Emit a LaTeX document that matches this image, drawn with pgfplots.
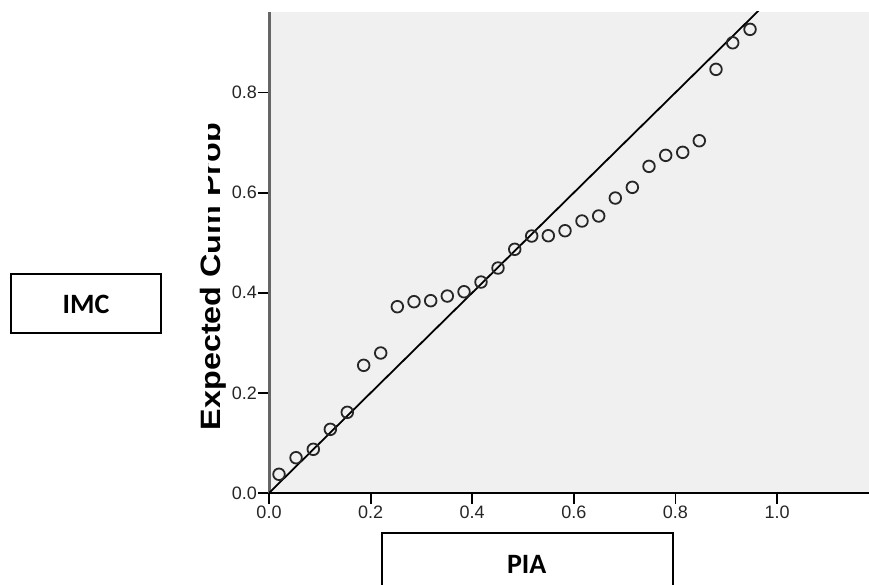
\documentclass[border=0pt]{standalone}
\usepackage{fontspec}
\setmainfont{Liberation Sans}
\newfontfamily\calibri{Carlito}
\usepackage{graphicx}
\usepackage{pgfplots}
\pgfplotsset{compat=1.18}
\definecolor{bg}{RGB}{240,240,240}
\pgfplotstableread{
x y
0.0197 0.0374
0.0532 0.0705
0.0872 0.0873
0.1207 0.1272
0.1541 0.1612
0.1864 0.2551
0.2199 0.2797
0.2526 0.3722
0.2854 0.3822
0.3183 0.3842
0.3510 0.3935
0.3839 0.4021
0.4173 0.4215
0.4508 0.4495
0.4837 0.4869
0.5171 0.5134
0.5498 0.5140
0.5827 0.5240
0.6161 0.5434
0.6490 0.5534
0.6817 0.5893
0.7152 0.6107
0.7480 0.6526
0.7809 0.6746
0.8144 0.6806
0.8470 0.7038
0.8799 0.8464
0.9128 0.8995
0.9469 0.9263
}\pts
\begin{document}
\begin{tikzpicture}[x=1pt,y=1pt]
\path[use as bounding box] (0,0) rectangle (869,-585);
\begin{axis}[
  at={(269pt,-493pt)}, anchor=south west,
  scale only axis, width=600pt, height=481pt,
  xmin=0, xmax=1.1811, ymin=0, ymax=0.961,
  axis x line*=bottom, axis y line*=left,
  axis line style={-},
  x axis line style={black, line width=2pt},
  y axis line style={black!60, line width=3pt},
  axis background/.style={fill=bg},
  xtick={0,0.2,0.4,0.6,0.8,1}, ytick={0,0.2,0.4,0.6,0.8},
  tick align=outside, major tick length=11pt,
  tick style={black, line width=1.8pt},
  ticklabel style={font=\fontsize{18}{20}\selectfont, text=black!85},
  xticklabel style={inner sep=1.5pt},
  yticklabel style={inner sep=1pt},
  /pgf/number format/.cd, fixed, fixed zerofill, precision=1, assume math mode=true,
]
\addplot[no marks, black, line width=1.8pt] coordinates {(0,0) (1.2,1.2)};
\addplot[only marks, mark=o, mark size=5.8pt, mark options={line width=1.8pt, draw=black!85}] table[x=x,y=y] {\pts};
\end{axis}
\node[rotate=90, anchor=base, inner sep=0pt] at (220,-276.5) {\resizebox{307pt}{\height}{\fontsize{28}{30}\selectfont\bfseries Expected Cum Prob}};
\fill[white] (160,0) rectangle (208,-254);
\draw[line width=2.5pt] (11,-274) rectangle (161,-333);
\node[anchor=base, inner sep=0pt] at (86,-313.3) {\calibri\fontsize{28}{30}\selectfont\bfseries IMC};
\draw[line width=2.5pt] (382,-600) -- (382,-533) -- (673,-533) -- (673,-600);
\node[anchor=base, inner sep=0pt] at (526.7,-573) {\calibri\fontsize{28}{30}\selectfont\bfseries PIA};
\end{tikzpicture}
\end{document}
